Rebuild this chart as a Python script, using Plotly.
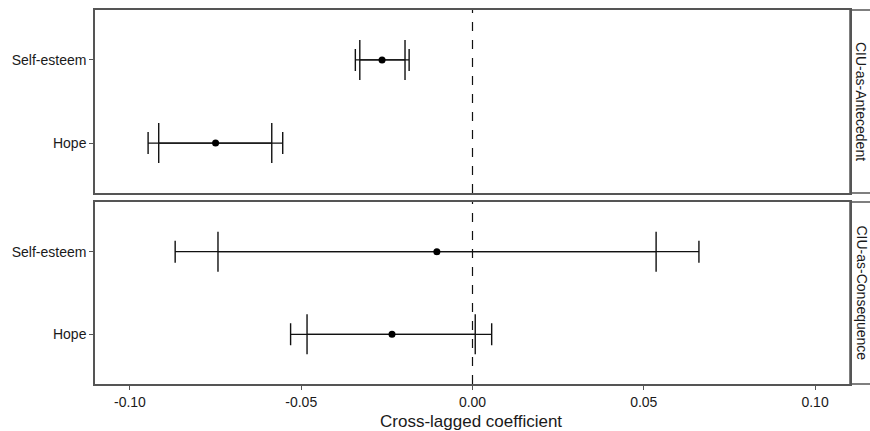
import plotly.graph_objects as go

# ---- data ----
panels = ["CIU-as-Antecedent", "CIU-as-Consequence"]
categories = ["Self-esteem", "Hope"]
cat_pos = [1, 0]

est_ante = [-0.0264, -0.0750]
est_cons = [-0.0104, -0.0235]

# narrower interval (tall caps)
inner_lo_ante = [-0.0329, -0.0916]
inner_hi_ante = [-0.0197, -0.0586]
inner_lo_cons = [-0.0743, -0.0483]
inner_hi_cons = [0.0536, 0.0008]

# wider interval (short caps)
outer_lo_ante = [-0.0342, -0.0947]
outer_hi_ante = [-0.0185, -0.0554]
outer_lo_cons = [-0.0868, -0.0531]
outer_hi_cons = [0.0661, 0.0056]

x_ticks = [-0.10, -0.05, 0.00, 0.05, 0.10]
x_ticktext = ["-0.10", "-0.05", "0.00", "0.05", "0.10"]

W, H = 870, 431
FONT = "Liberation Sans, Arial, sans-serif"
TXT = "#1a1a1a"
BORDER = "#555555"

fig = go.Figure()

data = [
    (est_ante, inner_lo_ante, inner_hi_ante, outer_lo_ante, outer_hi_ante),
    (est_cons, inner_lo_cons, inner_hi_cons, outer_lo_cons, outer_hi_cons),
]

# panel pixel boxes
px_left, px_right = 95, 850
panel_px = [(10, 193), (202, 384)]

def ydom(top, bot):
    return [(H - bot) / H, (H - top) / H]

xdom = [px_left / W, px_right / W]

for i, (est, ilo, ihi, olo, ohi) in enumerate(data):
    xa = "x" if i == 0 else "x2"
    ya = "y" if i == 0 else "y2"
    # outer interval, short caps
    fig.add_trace(go.Scatter(
        x=est, y=cat_pos, mode="markers", xaxis=xa, yaxis=ya,
        marker=dict(size=1, color="rgba(0,0,0,0)"),
        error_x=dict(type="data", symmetric=False,
                     array=[h - e for h, e in zip(ohi, est)],
                     arrayminus=[e - l for l, e in zip(olo, est)],
                     width=11, thickness=1.4, color="#111111"),
        showlegend=False, hoverinfo="skip"))
    # inner interval, tall caps
    fig.add_trace(go.Scatter(
        x=est, y=cat_pos, mode="markers", xaxis=xa, yaxis=ya,
        marker=dict(size=1, color="rgba(0,0,0,0)"),
        error_x=dict(type="data", symmetric=False,
                     array=[h - e for h, e in zip(ihi, est)],
                     arrayminus=[e - l for l, e in zip(ilo, est)],
                     width=20, thickness=1.4, color="#111111"),
        showlegend=False, hoverinfo="skip"))
    # point estimates
    fig.add_trace(go.Scatter(
        x=est, y=cat_pos, mode="markers", xaxis=xa, yaxis=ya,
        marker=dict(size=7, color="black"),
        showlegend=False))

axis_common = dict(
    showline=True, mirror=True, linecolor=BORDER, linewidth=1.5,
    showgrid=False, zeroline=False, automargin=False,
    ticks="outside", ticklen=4, tickwidth=1, tickcolor=BORDER,
    tickfont=dict(family=FONT, size=14, color=TXT),
)

fig.update_layout(
    width=W, height=H,
    margin=dict(l=0, r=0, t=0, b=0),
    paper_bgcolor="white", plot_bgcolor="white",
    font=dict(family=FONT, size=14, color=TXT),
    xaxis=dict(axis_common, domain=xdom, anchor="y", range=[-0.1102, 0.1102],
               tickvals=x_ticks, ticktext=x_ticktext, showticklabels=False,
               ticks=""),
    yaxis=dict(axis_common, domain=ydom(*panel_px[0]), anchor="x",
               range=[-0.6, 1.6], tickvals=cat_pos, ticktext=categories),
    xaxis2=dict(axis_common, domain=xdom, anchor="y2", range=[-0.1102, 0.1102],
                tickvals=x_ticks, ticktext=x_ticktext, matches="x"),
    yaxis2=dict(axis_common, domain=ydom(*panel_px[1]), anchor="x2",
                range=[-0.6, 1.6], tickvals=cat_pos, ticktext=categories),
)

shapes = []
annotations = []
for i, (top, bot) in enumerate(panel_px):
    xr = "x" if i == 0 else "x2"
    yr = "y domain" if i == 0 else "y2 domain"
    shapes.append(dict(type="line", xref=xr, yref=yr, x0=0, x1=0, y0=0, y1=1,
                       line=dict(color="#111111", width=1.2, dash="dash"), layer="below"))
    d = ydom(top, bot)
    shapes.append(dict(type="rect", xref="paper", yref="paper",
                       x0=px_right / W, x1=1.05, y0=d[0], y1=d[1],
                       line=dict(color=BORDER, width=1.5), fillcolor="white", layer="below"))
    annotations.append(dict(text=panels[i], xref="paper", yref="paper",
                            x=861.5 / W, y=(d[0] + d[1]) / 2, textangle=90,
                            showarrow=False, xanchor="center", yanchor="middle",
                            font=dict(family=FONT, size=14, color=TXT)))

annotations.append(dict(text="Cross-lagged coefficient", xref="paper", yref="paper",
                        x=471 / W, y=(H - 421.5) / H, showarrow=False,
                        xanchor="center", yanchor="middle",
                        font=dict(family=FONT, size=17, color=TXT)))

fig.update_layout(shapes=shapes, annotations=annotations)

# remove the default page margin so the figure fills the window exactly
page_fix = ("document.body.style.margin='0';"
            "document.documentElement.style.overflow='hidden';"
            "document.body.style.overflow='hidden';")
fig.write_html("out.html", post_script=page_fix,
               config={"displayModeBar": False})
